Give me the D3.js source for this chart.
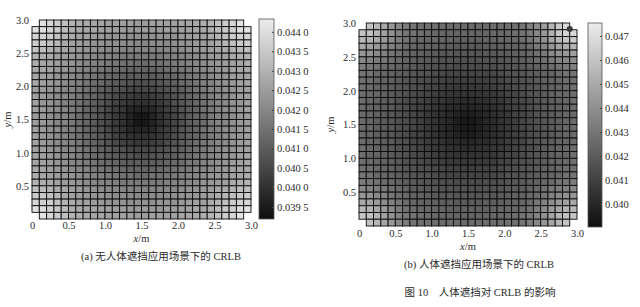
<!DOCTYPE html>
<html><head><meta charset="utf-8">
<script src="https://cdn.jsdelivr.net/npm/d3@7"></script>
<style>body{margin:0;background:#fff}svg{display:block}</style>
</head><body>
<svg id="c" width="640" height="307"></svg>
<script>
// ---- data (CRLB values in units of 1e-4 m) ----
const xTicks = [0, 0.5, 1.0, 1.5, 2.0, 2.5, 3.0];
const yTicks = [0.5, 1.0, 1.5, 2.0, 2.5, 3.0];
const cbTicksA = [0.0395, 0.0400, 0.0405, 0.0410, 0.0415, 0.0420, 0.0425, 0.0430, 0.0435, 0.0440];
const cbTicksB = [0.040, 0.041, 0.042, 0.043, 0.044, 0.045, 0.046, 0.047];
const cbRangeA = [0.03919, 0.04433];
const cbRangeB = [0.03904, 0.04754];

const crlbA = [
[null,441,438,436,433,430,429,428,427,427,426,426,426,426,425,425,426,426,426,426,427,427,428,429,430,433,436,438,441,null],
[441,440,437,435,432,429,428,427,427,426,426,425,425,424,424,424,424,424,425,425,426,426,427,427,429,432,435,437,440,441],
[438,437,436,433,430,428,426,426,425,424,423,423,423,422,422,422,422,423,423,423,424,425,426,426,428,430,433,436,437,438],
[436,435,433,431,428,426,425,424,423,423,422,421,421,421,420,420,421,421,421,422,423,423,424,425,426,428,431,433,435,436],
[433,432,430,428,427,425,424,423,422,421,420,420,419,419,419,419,419,419,420,420,421,422,423,424,425,427,428,430,432,433],
[430,429,428,426,425,424,423,421,420,419,419,418,417,417,417,417,417,417,418,419,419,420,421,423,424,425,426,428,429,430],
[429,427,426,425,424,423,421,420,419,418,417,416,415,415,414,414,415,415,416,417,418,419,420,421,423,424,425,426,427,429],
[428,427,426,424,423,421,420,419,417,416,415,414,413,412,412,412,412,413,414,415,416,417,419,420,421,423,424,426,427,428],
[427,426,425,423,422,420,419,417,416,414,413,412,411,410,410,410,410,411,412,413,414,416,417,419,420,422,423,425,426,427],
[427,426,424,423,421,419,418,416,414,413,411,410,409,408,407,407,408,409,410,411,413,414,416,418,419,421,423,424,426,427],
[426,425,423,422,420,419,417,415,413,411,410,408,407,405,405,405,405,407,408,410,411,413,415,417,419,420,422,423,425,426],
[426,425,423,421,420,418,416,414,412,410,408,406,404,403,402,402,403,404,406,408,410,412,414,416,418,420,421,423,425,426],
[426,424,423,421,419,417,415,413,411,409,407,404,402,401,400,400,401,402,404,407,409,411,413,415,417,419,421,423,424,426],
[426,424,422,421,419,417,415,412,410,408,405,403,401,398,397,397,398,401,403,405,408,410,412,415,417,419,421,422,424,426],
[425,424,422,420,419,417,414,412,410,407,405,402,400,397,394,394,397,400,402,405,407,410,412,414,417,419,420,422,424,425],
[425,424,422,420,419,417,414,412,410,407,405,402,400,397,394,394,397,400,402,405,407,410,412,414,417,419,420,422,424,425],
[426,424,422,421,419,417,415,412,410,408,405,403,401,398,397,397,398,401,403,405,408,410,412,415,417,419,421,422,424,426],
[426,424,423,421,419,417,415,413,411,409,407,404,402,401,400,400,401,402,404,407,409,411,413,415,417,419,421,423,424,426],
[426,425,423,421,420,418,416,414,412,410,408,406,404,403,402,402,403,404,406,408,410,412,414,416,418,420,421,423,425,426],
[426,425,423,422,420,419,417,415,413,411,410,408,407,405,405,405,405,407,408,410,411,413,415,417,419,420,422,423,425,426],
[427,426,424,423,421,419,418,416,414,413,411,410,409,408,407,407,408,409,410,411,413,414,416,418,419,421,423,424,426,427],
[427,426,425,423,422,420,419,417,416,414,413,412,411,410,410,410,410,411,412,413,414,416,417,419,420,422,423,425,426,427],
[428,427,426,424,423,421,420,419,417,416,415,414,413,412,412,412,412,413,414,415,416,417,419,420,421,423,424,426,427,428],
[429,427,426,425,424,423,421,420,419,418,417,416,415,415,414,414,415,415,416,417,418,419,420,421,423,424,425,426,427,429],
[430,429,428,426,425,424,423,421,420,419,419,418,417,417,417,417,417,417,418,419,419,420,421,423,424,425,426,428,429,430],
[433,432,430,428,427,425,424,423,422,421,420,420,419,419,419,419,419,419,420,420,421,422,423,424,425,427,428,430,432,433],
[436,435,433,431,428,426,425,424,423,423,422,421,421,421,420,420,421,421,421,422,423,423,424,425,426,428,431,433,435,436],
[438,437,436,433,430,428,426,426,425,424,423,423,423,422,422,422,422,423,423,423,424,425,426,426,428,430,433,436,437,438],
[441,440,437,435,432,429,428,427,427,426,426,425,425,424,424,424,424,424,425,425,426,426,427,427,429,432,435,437,440,441],
[null,441,438,436,433,430,429,428,427,427,426,426,426,426,425,425,426,426,426,426,427,427,428,429,430,433,436,438,441,null]
];

const crlbB = [
[null,460,455,449,443,437,433,430,428,428,427,427,426,426,426,426,426,426,427,427,428,428,430,434,439,446,454,462,468,null],
[460,458,454,447,441,435,431,429,427,426,425,425,424,424,424,424,424,424,425,425,426,427,429,432,437,444,452,461,466,468],
[455,454,449,444,438,433,429,426,425,424,424,423,423,422,422,422,422,423,423,424,424,425,427,430,435,441,448,455,461,462],
[449,447,444,439,435,431,426,424,423,423,422,421,421,420,420,420,420,421,421,422,423,423,424,427,432,437,443,448,452,454],
[443,441,438,435,430,427,425,423,422,421,420,419,419,418,418,418,418,419,419,420,421,422,423,425,428,432,437,441,444,446],
[437,435,433,431,427,425,423,421,420,419,418,417,417,416,416,416,416,417,417,418,419,420,421,423,426,428,432,435,437,439],
[433,431,429,426,425,423,421,420,418,417,416,415,415,414,414,414,414,415,415,416,417,418,420,421,423,425,427,430,432,434],
[430,429,426,424,423,421,420,418,417,416,414,413,412,412,412,412,412,412,413,414,416,417,418,420,421,423,424,427,429,430],
[428,427,425,423,422,420,418,417,415,414,412,411,410,410,409,409,410,410,411,412,414,415,417,418,420,422,423,425,427,428],
[428,426,424,423,421,419,417,416,414,412,411,409,408,407,407,407,407,408,409,411,412,414,416,417,419,421,423,424,426,428],
[427,425,424,422,420,418,416,414,412,411,409,407,406,405,405,405,405,406,407,409,411,412,414,416,418,420,422,424,425,427],
[427,425,423,421,419,417,415,413,411,409,407,406,404,403,402,402,403,404,406,407,409,411,413,415,417,419,421,423,425,427],
[426,424,423,421,419,417,415,412,410,408,406,404,402,401,400,400,401,402,404,406,408,410,412,415,417,419,421,423,424,426],
[426,424,422,420,418,416,414,412,410,407,405,403,401,399,397,397,399,401,403,405,407,410,412,414,416,418,420,422,424,426],
[426,424,422,420,418,416,414,412,409,407,405,402,400,397,395,395,397,400,402,405,407,409,412,414,416,418,420,422,424,426],
[426,424,422,420,418,416,414,412,409,407,405,402,400,397,395,395,397,400,402,405,407,409,412,414,416,418,420,422,424,426],
[426,424,422,420,418,416,414,412,410,407,405,403,401,399,397,397,399,401,403,405,407,410,412,414,416,418,420,422,424,426],
[426,424,423,421,419,417,415,412,410,408,406,404,402,401,400,400,401,402,404,406,408,410,412,415,417,419,421,423,424,426],
[427,425,423,421,419,417,415,413,411,409,407,406,404,403,402,402,403,404,406,407,409,411,413,415,417,419,421,423,425,427],
[427,425,424,422,420,418,416,414,412,411,409,407,406,405,405,405,405,406,407,409,411,412,414,416,418,420,422,424,425,427],
[428,426,424,423,421,419,417,416,414,412,411,409,408,407,407,407,407,408,409,411,412,414,416,417,419,421,423,424,426,428],
[428,427,425,423,422,420,418,417,415,414,412,411,410,410,409,409,410,410,411,412,414,415,417,418,420,422,423,425,427,428],
[430,429,426,424,423,421,420,418,417,416,414,413,412,412,412,412,412,412,413,414,416,417,418,420,421,423,424,426,429,430],
[433,431,429,426,425,423,421,420,418,417,416,415,415,414,414,414,414,415,415,416,417,418,420,421,423,425,426,429,431,433],
[437,435,433,431,427,425,423,421,420,419,418,417,417,416,416,416,416,417,417,418,419,420,421,423,425,427,431,433,435,437],
[443,441,438,435,430,427,425,423,422,421,420,419,419,418,418,418,418,419,419,420,421,422,423,425,427,430,435,438,441,443],
[449,447,444,439,435,431,426,424,423,423,422,421,421,420,420,420,420,421,421,422,423,423,424,426,431,435,439,444,447,449],
[455,454,449,444,438,433,429,426,425,424,424,423,423,422,422,422,422,423,423,424,424,425,426,429,433,438,444,449,454,455],
[460,458,454,447,441,435,431,429,427,426,425,425,424,424,424,424,424,424,425,425,426,427,429,431,435,441,447,454,458,460],
[null,460,455,449,443,437,433,430,428,428,427,427,426,426,426,426,426,426,427,427,428,428,430,433,437,443,449,455,460,null]
];

const markerB = [{x: 2.9, y: 2.91}];
const captionA = "(a) 无人体遮挡应用场景下的 CRLB";
const captionB = "(b) 人体遮挡应用场景下的 CRLB";
const figCaption = "图 10　人体遮挡对 CRLB 的影响";

// ---- drawing ----
const svg = d3.select("#c");
const FONT = "'Liberation Serif','Times New Roman',serif";
const TXT = "#2a2a2a";
const interp = d3.interpolateRgb("#0e0e0e", "#ececec");

function panel(cfg) {
  const g = svg.append("g");
  const xs = d3.scaleLinear().domain([0, 3]).range(cfg.xr);
  const ys = d3.scaleLinear().domain([0, 3]).range(cfg.yr);
  const n = cfg.data.length;
  const step = 3 / n;
  const col = v => interp((v / 10000 - cfg.cb[0]) / (cfg.cb[1] - cfg.cb[0]));
  const cells = [];
  cfg.data.forEach((row, r) => row.forEach((v, c) => { if (v != null) cells.push({r, c, v}); }));
  g.selectAll("rect.cell").data(cells).join("rect")
    .attr("x", d => xs(d.c * step))
    .attr("y", d => ys(3 - d.r * step))
    .attr("width", d => xs((d.c + 1) * step) - xs(d.c * step))
    .attr("height", d => ys(3 - (d.r + 1) * step) - ys(3 - d.r * step))
    .attr("fill", d => col(d.v))
    .attr("stroke", "#0a0a0a").attr("stroke-width", 0.9);

  const ax = g.append("g").attr("transform", `translate(0,${cfg.yr[0] + cfg.xtOff})`)
    .call(d3.axisBottom(xs).tickValues(xTicks).tickSize(0).tickPadding(1)
      .tickFormat(d => d === 0 ? "0" : d3.format(".1f")(d)));
  ax.select(".domain").remove();
  ax.selectAll("text").attr("font-family", FONT).attr("font-size", 10.5).attr("fill", TXT);
  const ay = g.append("g").attr("transform", `translate(${cfg.xr[0] - 1},0)`)
    .call(d3.axisLeft(ys).tickValues(yTicks).tickSize(0).tickPadding(2).tickFormat(d3.format(".1f")));
  ay.select(".domain").remove();
  ay.selectAll("text").attr("font-family", FONT).attr("font-size", 10.5).attr("fill", TXT);

  g.append("text").attr("x", (cfg.xr[0] + cfg.xr[1]) / 2).attr("y", cfg.xlabY)
    .attr("text-anchor", "middle").attr("font-family", FONT).attr("font-size", 10.5).attr("fill", TXT)
    .html('<tspan font-style="italic">x</tspan>/m');
  g.append("text").attr("transform", `translate(${cfg.ylabX},${(cfg.yr[0] + cfg.yr[1]) / 2}) rotate(-90)`)
    .attr("text-anchor", "middle").attr("font-family", FONT).attr("font-size", 10.5).attr("fill", TXT)
    .html('<tspan font-style="italic">y</tspan>/m');

  const id = "grad" + cfg.key;
  const grad = svg.append("defs").append("linearGradient").attr("id", id)
    .attr("x1", 0).attr("y1", 1).attr("x2", 0).attr("y2", 0);
  d3.range(0, 1.0001, 0.1).forEach(t => grad.append("stop").attr("offset", t).attr("stop-color", interp(t)));
  const cs = d3.scaleLinear().domain(cfg.cb).range([cfg.cbY[1], cfg.cbY[0]]);
  g.append("rect").attr("x", cfg.cbX[0]).attr("y", cfg.cbY[0])
    .attr("width", cfg.cbX[1] - cfg.cbX[0]).attr("height", cfg.cbY[1] - cfg.cbY[0])
    .attr("fill", `url(#${id})`).attr("stroke", "#555").attr("stroke-width", 0.8);
  const cax = g.append("g").attr("transform", `translate(${cfg.cbX[1]},0)`)
    .call(d3.axisRight(cs).tickValues(cfg.cbTicks).tickSize(-2).tickPadding(3).tickFormat(cfg.cbFmt));
  cax.select(".domain").remove();
  cax.selectAll("line").attr("stroke", "#444");
  cax.selectAll("text").attr("font-family", FONT).attr("font-size", 10.5).attr("fill", TXT);

  if (cfg.markers) {
    g.selectAll("circle.mk").data(cfg.markers).join("circle")
      .attr("cx", d => xs(d.x)).attr("cy", d => ys(d.y)).attr("r", 3)
      .attr("fill", "#3a3a3a");
  }

  svg.append("text").attr("x", cfg.capX).attr("y", cfg.capY).attr("text-anchor", "middle")
    .attr("font-family", "'Liberation Serif','Noto Sans CJK SC',serif").attr("font-size", 10.5)
    .attr("fill", TXT).text(cfg.caption);
}

panel({key: "A", data: crlbA, xr: [32, 251], yr: [219, 20], cb: cbRangeA, cbX: [259, 274], cbY: [19, 219],
  cbTicks: cbTicksA, cbFmt: d => { const s = d.toFixed(4); return s.slice(0, 5) + " " + s.slice(5); },
  xtOff: 2, xlabY: 242, ylabX: 11, caption: captionA, capX: 161, capY: 260});
panel({key: "B", data: crlbB, xr: [359, 577], yr: [226, 23], cb: cbRangeB, cbX: [588, 602], cbY: [23, 227],
  cbTicks: cbTicksB, cbFmt: d => d.toFixed(3), markers: markerB,
  xtOff: 3, xlabY: 250, ylabX: 334, caption: captionB, capX: 479, capY: 268});

svg.append("text").attr("x", 480).attr("y", 296).attr("text-anchor", "middle")
  .attr("font-family", "'Liberation Serif','Noto Sans CJK SC',serif").attr("font-size", 10.5)
  .attr("fill", TXT).text(figCaption);
</script>
</body></html>
